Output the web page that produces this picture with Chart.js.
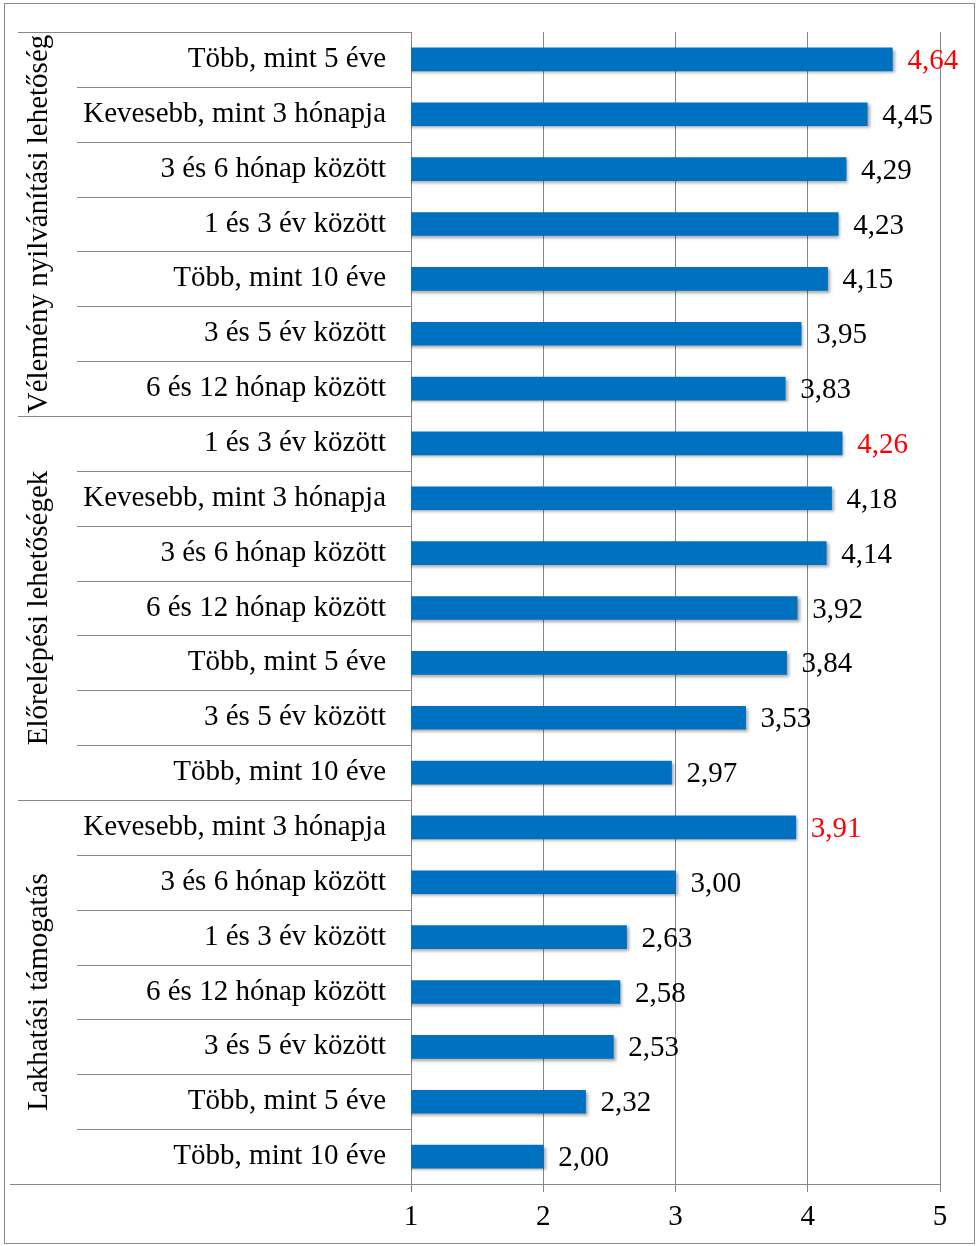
<!DOCTYPE html>
<html>
<head>
<meta charset="utf-8">
<script src="https://cdn.jsdelivr.net/npm/chart.js@4/dist/chart.umd.min.js"></script>
<style>
  html, body { margin: 0; padding: 0; background: #fff; }
  #wrap { width: 979px; height: 1246px; }
</style>
</head>
<body>
<div id="wrap"><canvas id="chart" width="979" height="1246"></canvas></div>
<script>
// Data

var groups = ['Vélemény nyilvánítási lehetőség', 'Előrelépési lehetőségek', 'Lakhatási támogatás'];

var labelsVelemeny = [
    'Több, mint 5 éve',
    'Kevesebb, mint 3 hónapja',
    '3 és 6 hónap között',
    '1 és 3 év között',
    'Több, mint 10 éve',
    '3 és 5 év között',
    '6 és 12 hónap között'
];
var valuesVelemeny = [4.64, 4.45, 4.29, 4.23, 4.15, 3.95, 3.83];

var labelsElorelepes = [
    '1 és 3 év között',
    'Kevesebb, mint 3 hónapja',
    '3 és 6 hónap között',
    '6 és 12 hónap között',
    'Több, mint 5 éve',
    '3 és 5 év között',
    'Több, mint 10 éve'
];
var valuesElorelepes = [4.26, 4.18, 4.14, 3.92, 3.84, 3.53, 2.97];

var labelsLakhatas = [
    'Kevesebb, mint 3 hónapja',
    '3 és 6 hónap között',
    '1 és 3 év között',
    '6 és 12 hónap között',
    '3 és 5 év között',
    'Több, mint 5 éve',
    'Több, mint 10 éve'
];
var valuesLakhatas = [3.91, 3.00, 2.63, 2.58, 2.53, 2.32, 2.00];

var xTicks = [1, 2, 3, 4, 5];

// Build

var groupLabels = [labelsVelemeny, labelsElorelepes, labelsLakhatas];

var categories = [].concat(labelsVelemeny, labelsElorelepes, labelsLakhatas);
var values = [].concat(valuesVelemeny, valuesElorelepes, valuesLakhatas);

var groupStart = [];
var n = 0;
groupLabels.forEach(function (g) { groupStart.push(n); n += g.length; });

var FONT = '"Liberation Serif", "Times New Roman", serif';
var FSIZE = 29;
var GRID = '#878787';

var decorPlugin = {
    id: 'decor',
    beforeDatasetsDraw: function (chart) {
        var ctx = chart.ctx;
        ctx.save();
        ctx.shadowColor = 'rgba(0,0,0,0.35)';
        ctx.shadowBlur = 3;
        ctx.shadowOffsetX = 2;
        ctx.shadowOffsetY = 2;
    },
    afterDatasetsDraw: function (chart) {
        var ctx = chart.ctx;
        ctx.restore();

        var y = chart.scales.y;
        var area = chart.chartArea;
        var meta = chart.getDatasetMeta(0);

        // row separators in label area
        ctx.save();
        ctx.strokeStyle = GRID;
        ctx.lineWidth = 1;
        for (var i = 0; i <= categories.length; i++) {
            var py;
            if (i === 0) py = area.top;
            else if (i === categories.length) py = area.bottom;
            else py = (y.getPixelForTick(i - 1) + y.getPixelForTick(i)) / 2;
            py = Math.round(py) + 0.5;
            var isGroup = groupStart.indexOf(i) >= 0 || i === categories.length;
            var x0 = isGroup ? 18 : 77;
            if (i === categories.length) x0 = 10;
            ctx.beginPath();
            ctx.moveTo(x0, py);
            ctx.lineTo(area.left, py);
            ctx.stroke();
        }
        ctx.restore();

        // group labels
        ctx.save();
        ctx.fillStyle = '#000';
        ctx.font = FSIZE + 'px ' + FONT;
        ctx.textAlign = 'center';
        ctx.textBaseline = 'middle';
        groups.forEach(function (name, gi) {
            var s = groupStart[gi];
            var e = s + groupLabels[gi].length - 1;
            var cy = (y.getPixelForTick(s) + y.getPixelForTick(e)) / 2;
            ctx.save();
            ctx.translate(39, cy);
            ctx.rotate(-Math.PI / 2);
            ctx.fillText(name, 0, 0);
            ctx.restore();
        });
        ctx.restore();

        // value labels
        ctx.save();
        ctx.font = FSIZE + 'px ' + FONT;
        ctx.textAlign = 'left';
        ctx.textBaseline = 'middle';
        meta.data.forEach(function (bar, i) {
            ctx.fillStyle = groupStart.indexOf(i) >= 0 ? '#FF0000' : '#000';
            ctx.fillText(values[i].toFixed(2).replace('.', ','), bar.x + 15, bar.y + 2);
        });
        ctx.restore();

        // outer frame
        ctx.save();
        ctx.strokeStyle = '#8a8a8a';
        ctx.lineWidth = 1;
        ctx.strokeRect(4.5, 3.5, 970, 1240);
        ctx.restore();
    }
};

new Chart(document.getElementById('chart'), {
    type: 'bar',
    data: {
        labels: categories,
        datasets: [{
            data: values,
            backgroundColor: '#0070C0',
            barThickness: 23
        }]
    },
    options: {
        indexAxis: 'y',
        responsive: false,
        animation: false,
        layout: { padding: { top: 32, right: 39, left: 0, bottom: 0 } },
        plugins: {
            legend: { display: false },
            tooltip: { enabled: false }
        },
        scales: {
            x: {
                min: 1,
                max: 5,
                afterFit: function (s) { s.height = 62; },
                afterBuildTicks: function (s) {
                    s.ticks = xTicks.map(function (v) { return { value: v }; });
                },
                grid: { color: GRID, lineWidth: 1, tickLength: 8 },
                border: { display: true, color: GRID },
                ticks: {
                    color: '#000',
                    font: { family: FONT, size: FSIZE },
                    padding: 8
                }
            },
            y: {
                afterFit: function (s) {
                    s.width = 411;
                    s.paddingTop = 0;
                    s.paddingBottom = 0;
                },
                grid: { display: false, drawTicks: false },
                border: { display: true, color: GRID },
                ticks: {
                    color: '#000',
                    font: { family: FONT, size: FSIZE },
                    padding: 25,
                    autoSkip: false
                }
            }
        }
    },
    plugins: [decorPlugin]
});
</script>
</body>
</html>
